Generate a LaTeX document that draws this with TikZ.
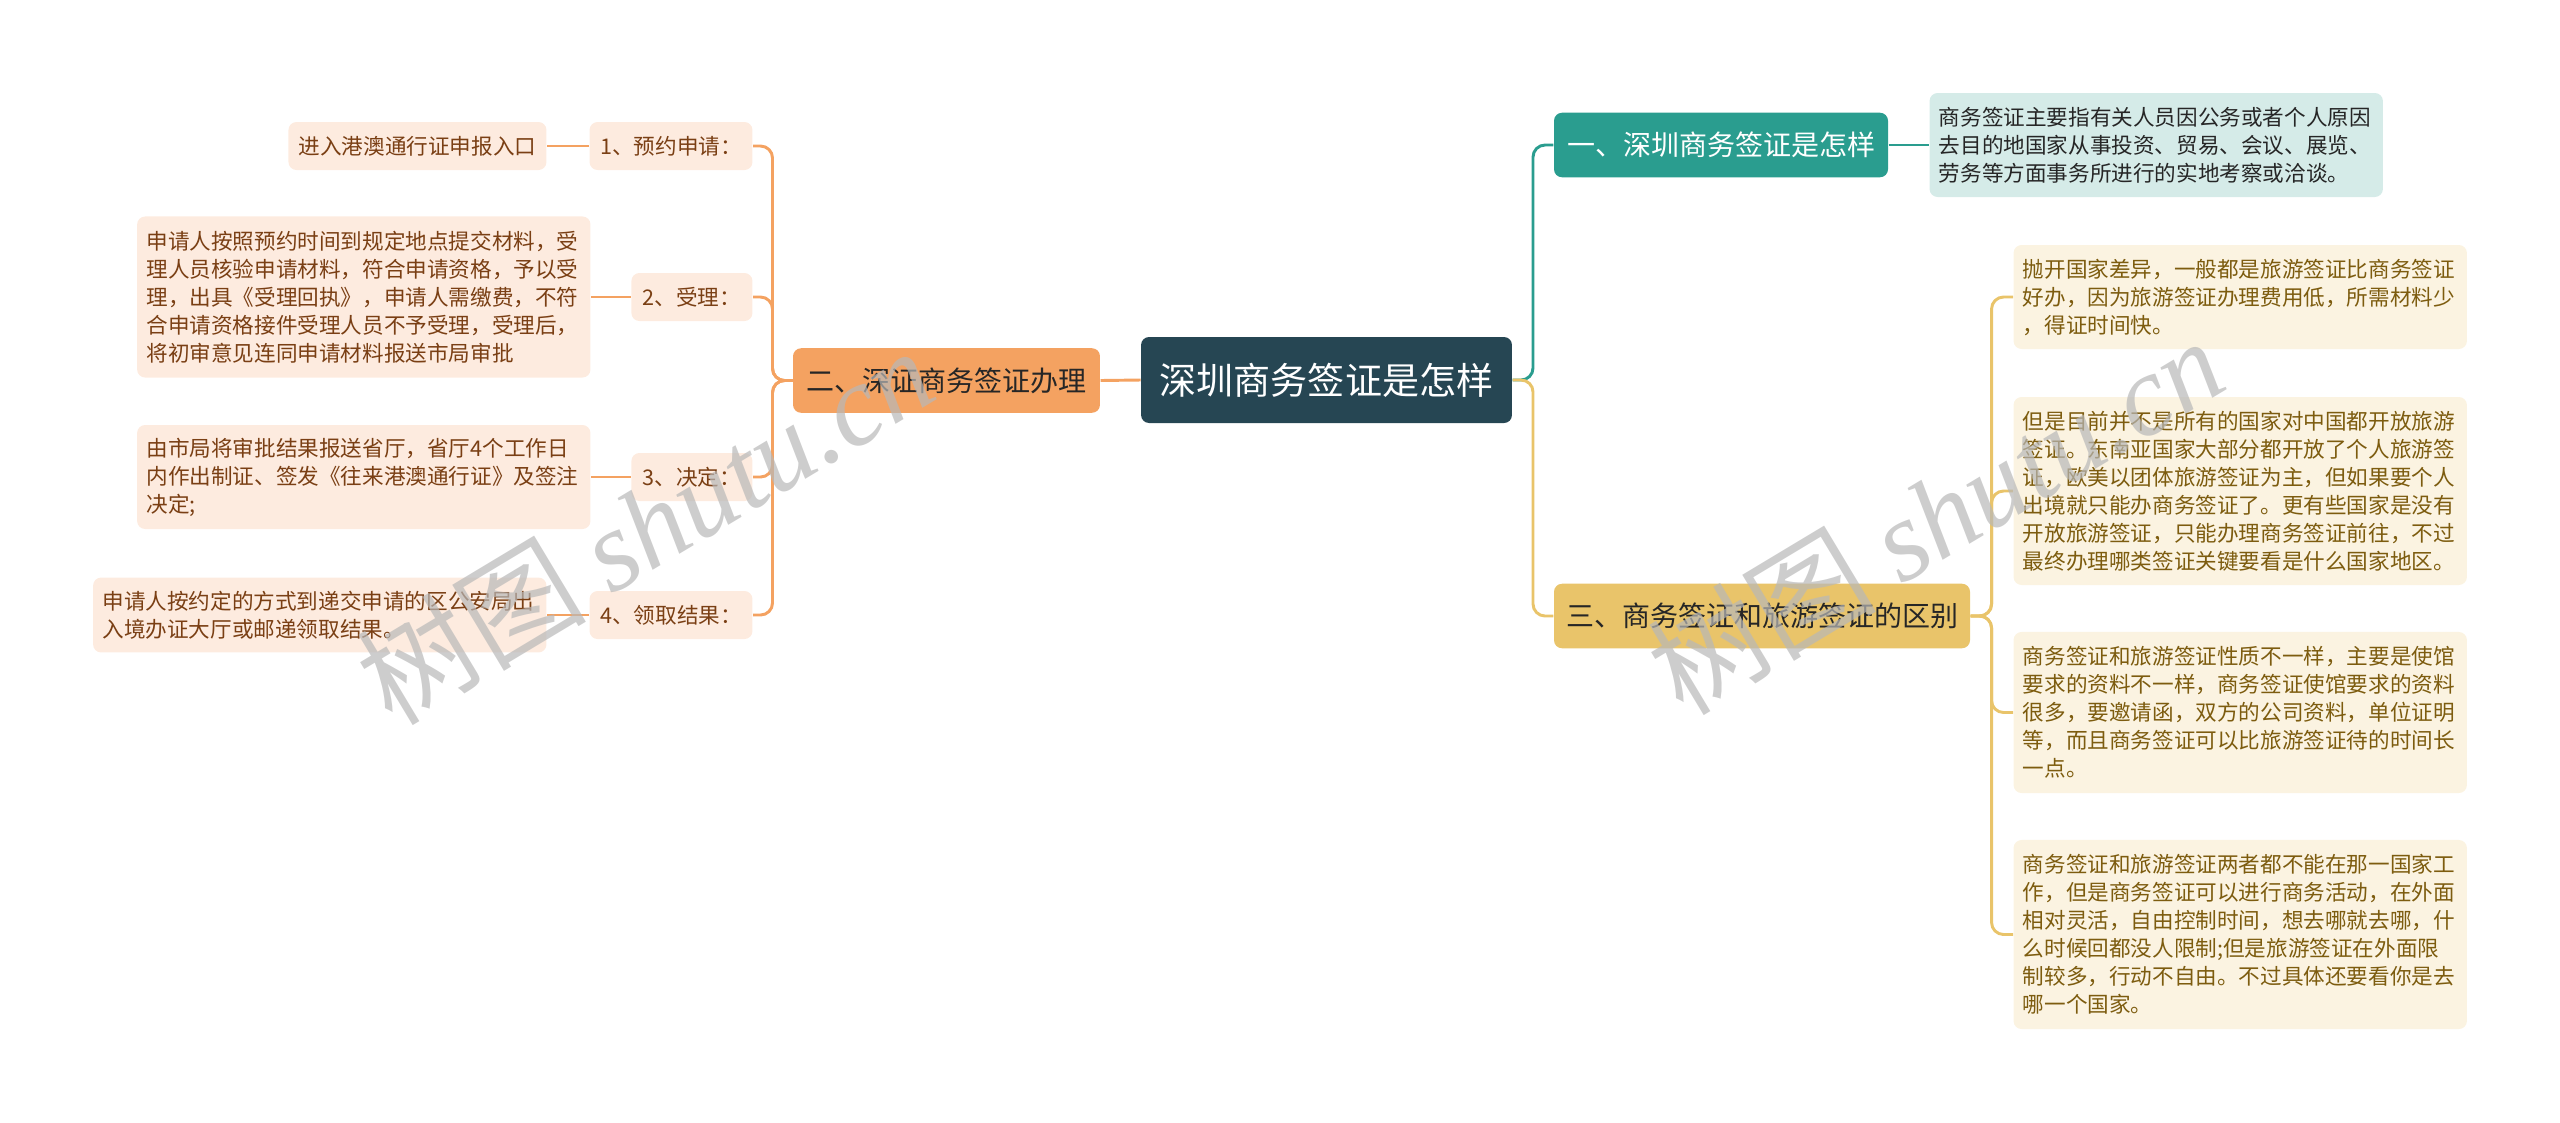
\documentclass[tikz,border=0pt]{standalone}
\usepackage{fontspec}
\setmainfont{Noto Sans CJK SC}
\newfontfamily\wmfont{Liberation Serif}
\definecolor{cRoot}{HTML}{264653}
\definecolor{cTeal}{HTML}{2A9D8F}
\definecolor{cYel}{HTML}{E9C46A}
\definecolor{cOra}{HTML}{F4A261}
\definecolor{cOraL}{HTML}{FDEBDF}
\definecolor{cOraT}{HTML}{7A3F14}
\definecolor{cTealL}{HTML}{D5EBE8}
\definecolor{cYelL}{HTML}{FBF3E1}
\definecolor{cYelT}{HTML}{7D5C0F}
\begin{document}
\begin{tikzpicture}[x=0.375pt,y=-0.375pt,
  box/.style={rounded corners=3pt, inner ysep=0pt},
  rootbox/.style={box, fill=cRoot, text=white, font=\fontsize{13.9pt}{16pt}\selectfont, minimum width=139.1pt, minimum height=32.25pt},
  brbox/.style={box, font=\fontsize{10.5pt}{12pt}\selectfont, minimum height=24.2pt, inner xsep=0pt},
  leaf/.style={box, font=\fontsize{8.1pt}{10.5pt}\selectfont, align=left},
  multi/.style={leaf, text width=163pt, inner xsep=3.5pt},
  single/.style={leaf, inner xsep=0pt, minimum height=18pt},
  oleaf/.style={fill=cOraL, text=cOraT},
  yleaf/.style={fill=cYelL, text=cYelT},
  conn/.style={line width=1.1pt, rounded corners=4.5pt},
  wm/.style={rotate=31, text=black!28, opacity=0.7, font=\fontsize{43pt}{43pt}\selectfont}
]
\useasboundingbox (0,0) rectangle (2560,1122);

% root
\node[rootbox] (root) at (1326.5,380) {深圳商务签证是怎样};

% left branch
\node[brbox, fill=cOra, text=black!85, minimum width=115.1pt] (b2) at (946.5,380.5) {二、深证商务签证办理};
\node[single, oleaf, minimum width=61.1pt, anchor=east] (s1) at (753,146) {1、预约申请：};
\node[single, oleaf, minimum width=45.4pt, anchor=east] (s2) at (753,297) {2、受理：};
\node[single, oleaf, minimum width=45.4pt, anchor=east] (s3) at (753,477) {3、决定：};
\node[single, oleaf, minimum width=61.1pt, anchor=east] (s4) at (753,615) {4、领取结果：};

\node[single, oleaf, minimum width=96.75pt, anchor=east] (l1) at (547,146) {进入港澳通行证申报入口};
\node[multi, oleaf, minimum height=60.4pt, anchor=east] (l2) at (591,297) {申请人按照预约时间到规定地点提交材料，受\\理人员核验申请材料，符合申请资格，予以受\\理，出具《受理回执》，申请人需缴费，不符\\合申请资格接件受理人员不予受理，受理后，\\将初审意见连同申请材料报送市局审批};
\node[multi, oleaf, minimum height=39pt, anchor=east] (l3) at (591,477) {由市局将审批结果报送省厅，省厅4个工作日\\内作出制证、签发《往来港澳通行证》及签注\\决定;};
\node[multi, oleaf, minimum height=28.1pt, anchor=east] (l4) at (547,615) {申请人按约定的方式到递交申请的区公安局出\\入境办证大厅或邮递领取结果。};

% right branches
\node[brbox, fill=cTeal, text=white, minimum width=125.25pt] (b1) at (1721,145) {一、深圳商务签证是怎样};
\node[multi, fill=cTealL, text=black!85, minimum height=39pt, anchor=west] (t1) at (1929,145) {商务签证主要指有关人员因公务或者个人原因\\去目的地国家从事投资、贸易、会议、展览、\\劳务等方面事务所进行的实地考察或洽谈。};

\node[brbox, fill=cYel, text=black!85, minimum width=156pt] (b3) at (1762,616) {三、商务签证和旅游签证的区别};
\node[multi, yleaf, minimum height=39pt, anchor=west] (y1) at (2013,297) {抛开国家差异，一般都是旅游签证比商务签证\\好办，因为旅游签证办理费用低，所需材料少\\，得证时间快。};
\node[multi, yleaf, minimum height=70.5pt, anchor=west] (y2) at (2013,491) {但是目前并不是所有的国家对中国都开放旅游\\签证。东南亚国家大部分都开放了个人旅游签\\证，欧美以团体旅游签证为主，但如果要个人\\出境就只能办商务签证了。更有些国家是没有\\开放旅游签证，只能办理商务签证前往，不过\\最终办理哪类签证关键要看是什么国家地区。};
\node[multi, yleaf, minimum height=60.4pt, anchor=west] (y3) at (2013,712.5) {商务签证和旅游签证性质不一样，主要是使馆\\要求的资料不一样，商务签证使馆要求的资料\\很多，要邀请函，双方的公司资料，单位证明\\等，而且商务签证可以比旅游签证待的时间长\\一点。};
\node[multi, yleaf, minimum height=70.9pt, anchor=west] (y4) at (2013,934.5) {商务签证和旅游签证两者都不能在那一国家工\\作，但是商务签证可以进行商务活动，在外面\\相对灵活，自由控制时间，想去哪就去哪，什\\么时候回都没人限制;但是旅游签证在外面限\\制较多，行动不自由。不过具体还要看你是去\\哪一个国家。};

% connectors
\draw[conn, cOra] (root.west) -- (b2.east);
\foreach \c in {s1,s2,s3,s4} \draw[conn, cOra] (b2.west) -- ++(-20,0) |- (\c.east);
\draw[conn, cOra] (s1.west) -- (l1.east);
\draw[conn, cOra] (s2.west) -- (l2.east);
\draw[conn, cOra] (s3.west) -- (l3.east);
\draw[conn, cOra] (s4.west) -- (l4.east);

\draw[conn, cTeal] (root.east) -- ++(20.5,0) |- (b1.west);
\draw[conn, cYel] (root.east) -- ++(20.5,0) |- (b3.west);
\draw[conn, cTeal] (b1.east) -- (t1.west);
\foreach \c in {y1,y2,y3,y4} \draw[conn, cYel] (b3.east) -- ++(21,0) |- (\c.west);

% watermarks
\node[wm] (wm1) at (645,525) {树图 {\wmfont\itshape shutu.cn}};
\node[wm] (wm2) at (1935,515) {树图 {\wmfont\itshape shutu.cn}};
\end{tikzpicture}
\end{document}
